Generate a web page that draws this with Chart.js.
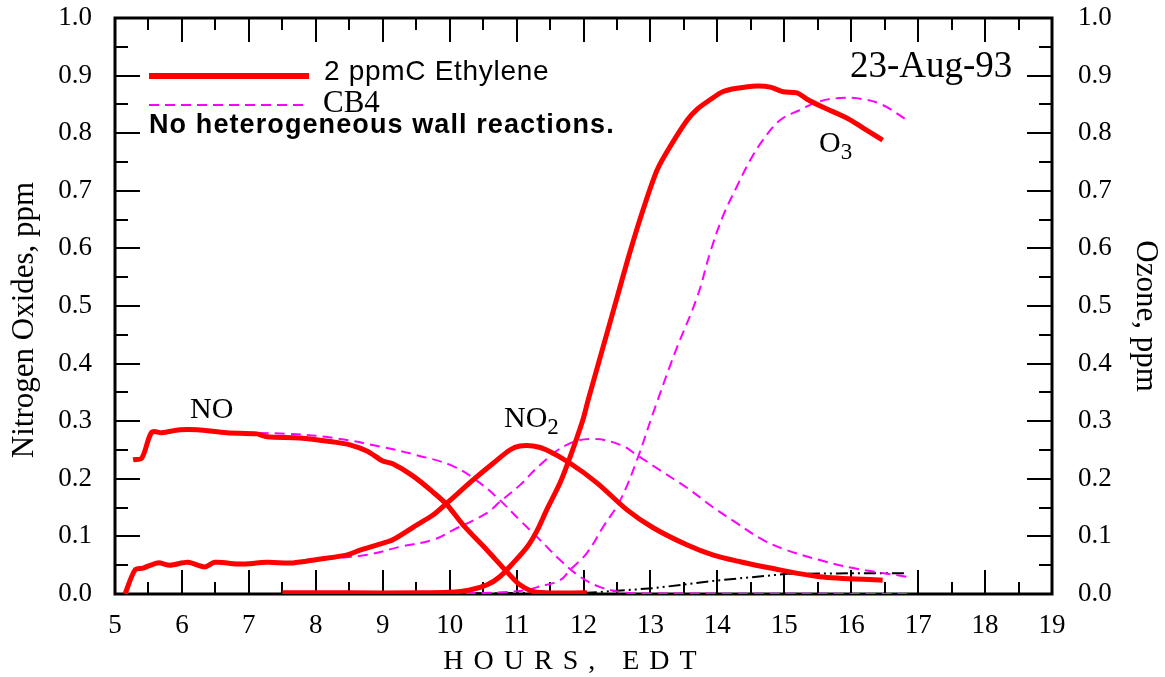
<!DOCTYPE html>
<html><head><meta charset="utf-8">
<script src="https://cdn.jsdelivr.net/npm/chart.js@4.4.1/dist/chart.umd.min.js"></script>
<style>html,body{margin:0;padding:0;background:#fff}#wrap{width:1165px;height:677px;position:relative}</style>
</head><body><div id="wrap"><canvas id="c" width="1165" height="677"></canvas></div>
<script>
// ---- tick labels ----
const xTickLabels = ['5','6','7','8','9','10','11','12','13','14','15','16','17','18','19'];
const yTickLabels = ['0.0','0.1','0.2','0.3','0.4','0.5','0.6','0.7','0.8','0.9','1.0'];

// ---- 2 ppmC Ethylene (red, solid) ----
const ethNO_h = [5.27,5.40,5.55,5.70,5.97,6.23,6.67,7.12,7.27,7.76,8.26,8.51,8.77,9.00,9.15,9.45,9.75,9.96,10.20,10.56,10.86,11.05,11.30,12.05];
const ethNO_v = [0.233,0.236,0.281,0.280,0.285,0.285,0.280,0.278,0.273,0.271,0.264,0.259,0.248,0.231,0.226,0.205,0.177,0.155,0.120,0.076,0.038,0.016,0.003,0.002];

const ethNO2_h = [5.15,5.30,5.42,5.64,5.82,6.09,6.34,6.49,6.87,7.27,7.66,8.02,8.47,8.66,8.91,9.15,9.51,9.75,9.96,10.35,10.65,10.90,11.05,11.25,11.45,11.80,12.20,12.65,13.04,13.55,13.93,14.34,14.79,15.53,16.47];
const ethNO2_v = [0.000,0.042,0.045,0.054,0.050,0.055,0.047,0.055,0.052,0.055,0.054,0.060,0.068,0.076,0.085,0.094,0.120,0.137,0.158,0.198,0.227,0.250,0.257,0.257,0.250,0.227,0.193,0.146,0.115,0.085,0.068,0.056,0.045,0.030,0.024];

const ethO3_h = [7.50,8.50,9.50,10.00,10.30,10.56,10.75,10.95,11.16,11.31,11.45,11.65,11.80,11.99,12.07,12.50,12.69,12.89,13.10,13.29,13.55,13.70,13.89,14.08,14.29,14.59,14.79,14.98,15.19,15.34,15.58,15.94,16.18,16.47];
const ethO3_v = [0.002,0.002,0.002,0.003,0.007,0.016,0.030,0.054,0.082,0.111,0.146,0.193,0.238,0.302,0.337,0.514,0.592,0.667,0.736,0.776,0.823,0.842,0.858,0.872,0.878,0.882,0.880,0.872,0.870,0.859,0.845,0.826,0.809,0.788];

// ---- CB4 (magenta, dashed) ----
const cbNO_h = [6.67,7.57,8.26,9.00,9.51,10.05,10.45,10.75,11.05,11.35,11.65,11.95,12.25,12.65,13.00,16.83];
const cbNO_v = [0.280,0.278,0.271,0.255,0.241,0.222,0.193,0.163,0.128,0.094,0.059,0.030,0.012,0.002,0.001,0.000];

const cbNO2_h = [6.72,7.51,8.26,8.77,9.26,9.75,10.05,10.56,10.75,11.05,11.35,11.75,12.14,12.55,12.80,13.14,13.55,13.93,14.29,14.68,15.04,15.53,16.03,16.83];
const cbNO2_v = [0.054,0.055,0.062,0.068,0.082,0.094,0.111,0.141,0.160,0.189,0.224,0.259,0.269,0.259,0.241,0.215,0.184,0.151,0.123,0.094,0.076,0.059,0.045,0.030];

const cbO3_h = [10.00,10.80,11.15,11.31,11.65,11.80,12.05,12.29,12.55,12.80,13.04,13.37,13.70,13.89,14.08,14.29,14.49,14.68,14.94,15.23,15.49,15.83,16.18,16.47,16.83];
const cbO3_v = [0.001,0.003,0.007,0.012,0.024,0.042,0.071,0.116,0.163,0.233,0.314,0.420,0.516,0.592,0.655,0.707,0.753,0.788,0.823,0.840,0.854,0.861,0.859,0.849,0.823];

// ---- black dash-dot series ----
const blk_h = [7.00,12.05,13.04,14.04,15.04,16.03,16.83];
const blk_v = [0.000,0.002,0.010,0.024,0.035,0.036,0.036];

const pts = (h, v) => h.map((x, i) => ({x, y: v[i]}));
const RED = '#ff0000', MAG = '#ff00ff';
const SERIF = "'Liberation Serif','Times New Roman',serif";
const SANS = "'Liberation Sans',Arial,sans-serif";

const redDS = (label, h, v) => ({label, data: pts(h, v), borderColor: RED, borderWidth: 5, pointRadius: 0, tension: 0.3, yAxisID: 'y', borderJoinStyle: 'round'});
const magDS = (label, h, v) => ({label, data: pts(h, v), borderColor: MAG, borderWidth: 2, borderDash: [10, 6], pointRadius: 0, tension: 0.4, yAxisID: 'y'});

const PLOT = {left: 115, top: 18, right: 1052, bottom: 594};

const decor = {
  id: 'decor',
  beforeDatasetsDraw(chart) {
    const ctx = chart.ctx, xs = chart.scales.x, ys = chart.scales.y;
    const a = chart.chartArea;
    ctx.save();
    ctx.strokeStyle = '#000';
    ctx.lineWidth = 2;
    ctx.beginPath();
    for (let h = 5; h <= 19.001; h += 0.5) {
      const px = Math.round(xs.getPixelForValue(h));
      const len = Math.abs(h - Math.round(h)) < 0.01 ? 24 : 12;
      ctx.moveTo(px, a.bottom); ctx.lineTo(px, a.bottom - len);
      ctx.moveTo(px, a.top); ctx.lineTo(px, a.top + len);
    }
    for (let k = 0; k <= 20; k++) {
      const v = k * 0.05;
      const py = Math.round(ys.getPixelForValue(v));
      const len = k % 2 === 0 ? 25 : 13;
      ctx.moveTo(a.left, py); ctx.lineTo(a.left + len, py);
      ctx.moveTo(a.right, py); ctx.lineTo(a.right - len, py);
    }
    ctx.stroke();
    ctx.lineWidth = 3;
    ctx.strokeRect(a.left, a.top, a.right - a.left, a.bottom - a.top);
    ctx.restore();
  },
  afterDraw(chart) {
    const ctx = chart.ctx;
    ctx.save();
    ctx.fillStyle = '#000';
    // axis titles
    ctx.font = `31px ${SERIF}`;
    ctx.textAlign = 'center'; ctx.textBaseline = 'middle';
    ctx.save(); ctx.translate(25, 320); ctx.rotate(-Math.PI / 2); ctx.fillText('Nitrogen Oxides, ppm', 0, 0); ctx.restore();
    ctx.save(); ctx.translate(1145, 316); ctx.rotate(Math.PI / 2); ctx.fillText('Ozone, ppm', 0, 0); ctx.restore();
    ctx.font = `28px ${SERIF}`;
    ctx.letterSpacing = '10px';
    ctx.textAlign = 'left';
    const t = 'HOURS, EDT';
    const w = ctx.measureText(t).width - 10;
    ctx.fillText(t, 570 - w / 2, 662);
    // legend
    ctx.textBaseline = 'alphabetic';
    ctx.lineCap = 'butt';
    ctx.strokeStyle = RED; ctx.lineWidth = 6;
    ctx.beginPath(); ctx.moveTo(149, 76); ctx.lineTo(309, 76); ctx.stroke();
    ctx.strokeStyle = MAG; ctx.lineWidth = 2; ctx.setLineDash([10, 6]);
    ctx.beginPath(); ctx.moveTo(149, 105); ctx.lineTo(303, 105); ctx.stroke();
    ctx.setLineDash([]);
    ctx.letterSpacing = '0.7px';
    ctx.font = `28px ${SANS}`; ctx.fillText('2 ppmC Ethylene', 324, 80);
    ctx.letterSpacing = '0px';
    ctx.font = `31px ${SERIF}`; ctx.fillText('CB4', 323, 112);
    ctx.letterSpacing = '1.1px';
    ctx.font = `bold 27px ${SANS}`; ctx.fillText('No heterogeneous wall reactions.', 149, 133);
    ctx.letterSpacing = '0px';
    ctx.font = `37px ${SERIF}`; ctx.fillText('23-Aug-93', 850, 77);
    // curve labels
    ctx.font = `30px ${SERIF}`; ctx.fillText('NO', 190, 418);
    ctx.fillText('NO', 504, 427);
    let wNO = ctx.measureText('NO').width;
    ctx.font = `23px ${SERIF}`; ctx.fillText('2', 504 + wNO, 434);
    ctx.font = `30px ${SERIF}`; ctx.fillText('O', 819, 152);
    let wO = ctx.measureText('O').width;
    ctx.font = `23px ${SERIF}`; ctx.fillText('3', 819 + wO, 159);
    ctx.restore();
  }
};

new Chart(document.getElementById('c'), {
  type: 'line',
  data: {
    datasets: [
      redDS('2 ppmC Ethylene NO', ethNO_h, ethNO_v),
      redDS('2 ppmC Ethylene NO2', ethNO2_h, ethNO2_v),
      redDS('2 ppmC Ethylene O3', ethO3_h, ethO3_v),
      magDS('CB4 NO', cbNO_h, cbNO_v),
      magDS('CB4 NO2', cbNO2_h, cbNO2_v),
      magDS('CB4 O3', cbO3_h, cbO3_v),
      {label: 'other', data: pts(blk_h, blk_v), borderColor: '#000', borderWidth: 2, borderDash: [12, 4, 2, 4, 2, 4], pointRadius: 0, tension: 0, yAxisID: 'y'}
    ]
  },
  options: {
    responsive: false, animation: false, devicePixelRatio: 1,
    layout: {padding: {top: PLOT.top, left: 0, right: 0, bottom: 0}},
    plugins: {legend: {display: false}, tooltip: {enabled: false}},
    scales: {
      x: {
        type: 'linear', position: 'bottom', min: 5, max: 19,
        grid: {display: false}, border: {display: false},
        ticks: {stepSize: 1, autoSkip: false, maxRotation: 0, padding: 8, color: '#000',
          font: {family: SERIF, size: 27},
          callback: (v) => xTickLabels[Math.round(v) - 5]},
        afterFit: s => { s.height = 677 - PLOT.bottom; s.paddingLeft = 0; s.paddingRight = 0; }
      },
      y: {
        position: 'left', min: 0, max: 1,
        grid: {display: false}, border: {display: false},
        ticks: {stepSize: 0.1, padding: 15, color: '#000', font: {family: SERIF, size: 27},
          callback: (v) => yTickLabels[Math.round(v * 10)]},
        afterFit: s => { s.width = PLOT.left; s.paddingTop = 0; s.paddingBottom = 0; }
      },
      y2: {
        position: 'right', min: 0, max: 1,
        grid: {display: false}, border: {display: false},
        ticks: {stepSize: 0.1, padding: 18, color: '#000', font: {family: SERIF, size: 27},
          callback: (v) => yTickLabels[Math.round(v * 10)]},
        afterFit: s => { s.width = 1165 - PLOT.right; s.paddingTop = 0; s.paddingBottom = 0; }
      }
    }
  },
  plugins: [decor]
});
</script></body></html>
